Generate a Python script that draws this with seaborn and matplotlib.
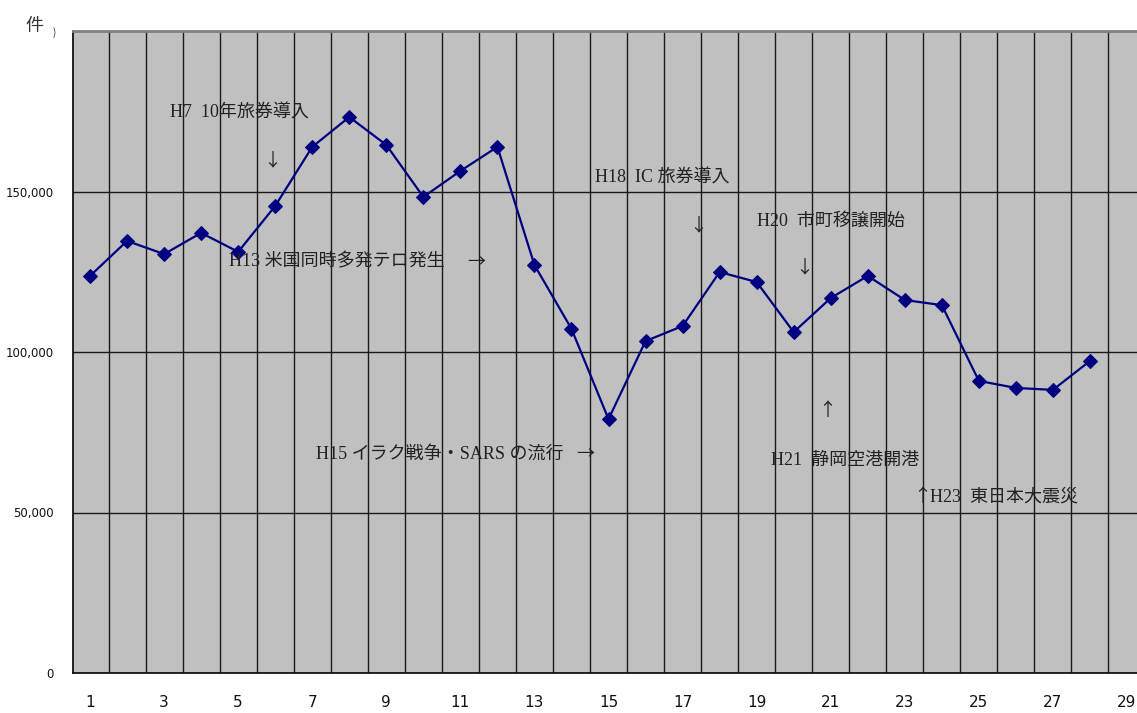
import matplotlib
matplotlib.use("Agg")
import matplotlib.pyplot as plt
import seaborn as sns
import pandas as pd
import numpy as np

# ---- data ----
categories = list(range(1, 29))
values = [123700, 134600, 130500, 137100, 131200, 145500, 163900, 173200,
          164500, 148300, 156400, 163900, 127100, 107200, 79100, 103400,
          108100, 124900, 121800, 106200, 116800, 123700, 116200, 114600,
          91000, 88800, 88200, 97200]
x_tick_labels = [str(i) for i in range(1, 30, 2)]
y_ticks = [0, 50000, 100000, 150000]
y_tick_labels = ["0", "50,000", "100,000", "150,000"]
unit_label = "件"

annotations = [
    ("H7  10年旅券導入", 170, 113),
    ("H13 米国同時多発テロ発生", 229, 262),
    ("H18  IC 旅券導入", 595, 178),
    ("H20  市町移譲開始", 757, 221),
    ("H21  静岡空港開港", 771, 460),
    ("H15 イラク戦争・SARS の流行", 316, 454),
    ("H23  東日本大震災", 930, 497),
]
arrows = [
    ("↓", 272, 160),
    ("→", 476, 262),
    ("↓", 698, 225),
    ("↓", 804, 267),
    ("↑", 827, 411),
    ("→", 585, 454),
    ("↑", 922, 497),
]

df = pd.DataFrame({"cat": categories, "val": values})

sns.set_style("white")
plt.rcParams['font.family'] = ['Noto Sans CJK JP', 'DejaVu Sans']

W, H = 1137, 713
fig = plt.figure(figsize=(W / 100, H / 100), dpi=100)
left, right, top, bottom = 73, 1137, 31, 673
ax = fig.add_axes([left / W, 1 - bottom / H, (right - left) / W, (bottom - top) / H])
ax.set_facecolor("#c0c0c0")

# gridlines
for yv in y_ticks[1:]:
    ax.axhline(yv, color="#1a1a1a", lw=1.0, zorder=1)
for b in np.arange(1.5, 29.5, 1.0):
    ax.axvline(b, color="#1a1a1a", lw=1.0, zorder=1)

sns.lineplot(data=df, x="cat", y="val", ax=ax, color="#000080", lw=1.6,
             marker="D", markersize=7.5, markeredgecolor="#000080",
             zorder=3)

ax.set_xlim(0.54, 29.27)
ax.set_ylim(0, 200000)
ax.set_xticks(list(range(1, 30, 2)))
ax.set_xticklabels(x_tick_labels, fontsize=11, family=['DejaVu Sans'])
ax.set_yticks(y_ticks)
ax.set_yticklabels(y_tick_labels, fontsize=8.5, family=['DejaVu Sans'])
ax.tick_params(axis="x", length=0, pad=16, colors="#111111")
ax.tick_params(axis="y", length=0, pad=14, colors="#111111")
ax.set_xlabel("")
ax.set_ylabel("")

for s in ["left", "bottom"]:
    ax.spines[s].set_color("#111111")
    ax.spines[s].set_linewidth(1.3)
ax.spines["top"].set_color("#808080")
ax.spines["top"].set_linewidth(2.0)
ax.spines["right"].set_visible(False)

fig.text(25 / W, 1 - 26 / H, unit_label, fontsize=13, color="#333333",
         ha="left", va="center")
fig.text(53 / W, 1 - 33 / H, ")", fontsize=7, color="#333333",
         ha="left", va="center")

for txt, px, py in annotations:
    fig.text(px / W, 1 - py / H, txt, fontsize=13, color="#222222",
             ha="left", va="center",
             family=['Liberation Serif', 'Noto Sans CJK JP', 'DejaVu Sans'])
for txt, px, py in arrows:
    fig.text(px / W, 1 - py / H, txt, fontsize=13, color="#222222",
             ha="center", va="center",
             family=['Noto Sans CJK JP', 'DejaVu Sans'])

fig.savefig("out.png", dpi=100)
